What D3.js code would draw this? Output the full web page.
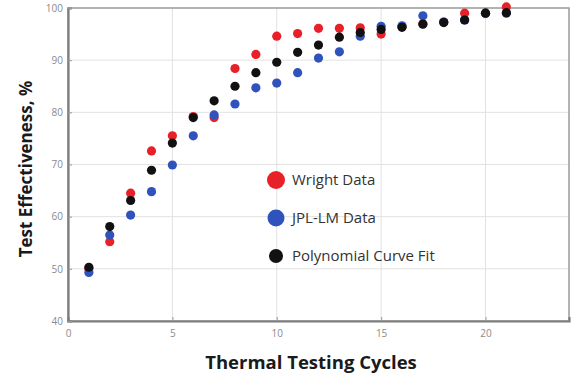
<!DOCTYPE html>
<html>
<head>
<meta charset="utf-8">
<script src="https://cdn.jsdelivr.net/npm/d3@7"></script>
<style>
  body { margin: 0; background: #fff; }
  text { font-family: 'Open Sans', 'Noto Sans', sans-serif; }
</style>
</head>
<body>
<div id="chart"></div>
<script>
// Thermal testing cycles vs test effectiveness

const cycles = [1, 2, 3, 4, 5, 6, 7, 8, 9, 10, 11, 12, 13, 14, 15, 16, 17, 18, 19, 20, 21]
const wright = [50.0, 55.2, 64.5, 72.6, 75.5, 79.2, 79.0, 88.4, 91.1, 94.6, 95.1, 96.1, 96.1, 96.2, 95.0, 96.4, 97.0, 97.3, 99.0, 99.0, 100.2]
const jplLm = [49.3, 56.5, 60.3, 64.8, 69.9, 75.5, 79.5, 81.6, 84.7, 85.6, 87.6, 90.4, 91.6, 94.6, 96.5, 96.6, 98.5, 97.3, 97.7, 99.0, 99.0]
const polyFit = [50.3, 58.1, 63.1, 68.9, 74.1, 79.0, 82.2, 85.0, 87.6, 89.6, 91.5, 92.9, 94.4, 95.3, 95.9, 96.3, 96.9, 97.2, 97.7, 99.0, 99.1]

const xTicks = [0, 5, 10, 15, 20]
const yTicks = [40, 50, 60, 70, 80, 90, 100]

const seriesNames = ['Wright Data', 'JPL-LM Data', 'Polynomial Curve Fit']
const seriesColors = ['#e82128', '#2f52bd', '#111111']

const width = 575
const height = 378
const margin = { top: 8, right: 6, bottom: 57, left: 68 }

const svg = d3.select('#chart')
  .append('svg')
  .attr('width', width)
  .attr('height', height)

const x = d3.scaleLinear().domain([0, 24]).range([margin.left, width - margin.right])
const y = d3.scaleLinear().domain([40, 100]).range([height - margin.bottom, margin.top])

// grid
svg.append('g')
  .selectAll('line')
  .data(xTicks.slice(1))
  .join('line')
  .attr('x1', d => x(d)).attr('x2', d => x(d))
  .attr('y1', y(40)).attr('y2', y(100))
  .attr('stroke', '#e2e2e2')

svg.append('g')
  .selectAll('line')
  .data(yTicks.slice(1, -1))
  .join('line')
  .attr('x1', x(0)).attr('x2', x(24))
  .attr('y1', d => y(d)).attr('y2', d => y(d))
  .attr('stroke', '#e2e2e2')

// frame
svg.append('rect')
  .attr('x', x(0)).attr('y', y(100))
  .attr('width', x(24) - x(0)).attr('height', y(40) - y(100))
  .attr('fill', 'none')
  .attr('stroke', '#9a9a9a')
  .attr('stroke-width', 1.5)

// axes
const xAxis = svg.append('g')
  .attr('transform', `translate(0,${y(40)})`)
  .call(d3.axisBottom(x).tickValues(xTicks).tickSize(-4).tickPadding(9))
const yAxis = svg.append('g')
  .attr('transform', `translate(${x(0)},0)`)
  .call(d3.axisLeft(y).tickValues(yTicks).tickSize(-4).tickPadding(5))

;[xAxis, yAxis].forEach(g => {
  g.select('.domain').attr('stroke', '#7d7d7d').attr('stroke-width', 2.2)
  g.selectAll('.tick line').attr('stroke', '#999')
  g.selectAll('.tick text')
    .attr('fill', '#8a8a8a')
    .style('font-size', '10px')
    .style('font-family', "'Open Sans', sans-serif")
})

// points
const allSeries = [wright, jplLm, polyFit]
allSeries.forEach((vals, i) => {
  svg.append('g')
    .selectAll('circle')
    .data(vals)
    .join('circle')
    .attr('cx', (d, j) => x(cycles[j]))
    .attr('cy', d => y(d))
    .attr('r', 4.6)
    .attr('fill', seriesColors[i])
})

// legend
const legend = svg.append('g')
const legendRadius = [9, 8.5, 7]
seriesNames.forEach((name, i) => {
  const ly = 180 + i * 38
  legend.append('circle')
    .attr('cx', 276).attr('cy', ly)
    .attr('r', legendRadius[i])
    .attr('fill', seriesColors[i])
  legend.append('text')
    .attr('x', 292).attr('y', ly)
    .attr('dy', '0.35em')
    .attr('fill', '#333')
    .style('font-size', '15px')
    .text(name)
})

// axis titles
svg.append('text')
  .text('Thermal Testing Cycles')
  .attr('x', 311).attr('y', 369)
  .attr('text-anchor', 'middle')
  .attr('fill', '#1a1a1a')
  .style('font-size', '18.5px')
  .style('font-weight', 'bold')

svg.append('text')
  .text('Test Effectiveness, %')
  .attr('transform', 'translate(32,169) rotate(-90)')
  .attr('text-anchor', 'middle')
  .attr('fill', '#1a1a1a')
  .style('font-size', '17px')
  .style('font-weight', 'bold')
</script>
</body>
</html>
